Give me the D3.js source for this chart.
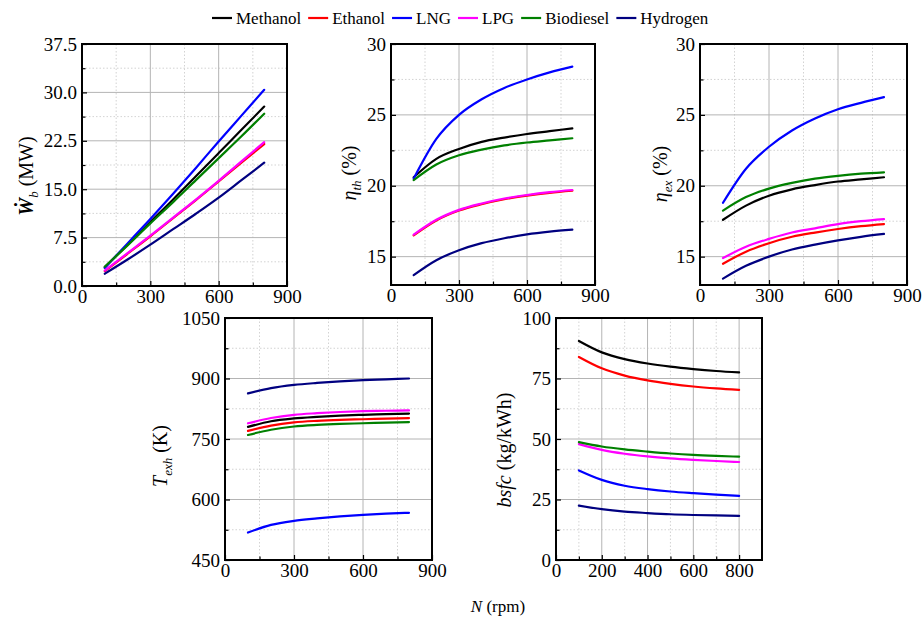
<!DOCTYPE html>
<html><head><meta charset="utf-8">
<script src="https://cdn.jsdelivr.net/npm/d3@7"></script>
<style>body{margin:0;background:#fff}svg{display:block}svg text{font-family:"Liberation Serif","Times New Roman",Times,serif;fill:#000}</style>
</head><body><svg id="c" width="922" height="619"></svg>
<script>
const fuels = ["Methanol","Ethanol","LNG","LPG","Biodiesel","Hydrogen"];
const colors = ["#000000","#ff0000","#0000ff","#ff00ff","#008000","#000080"];
const speed = [100,200,300,400,500,600,700,800];

const brakePower = {
  Methanol: [2.9,6.4,9.9,13.4,17.0,20.6,24.2,27.8],
  Ethanol: [2.3,5.0,7.7,10.5,13.3,16.2,19.1,22.0],
  LNG: [2.8,6.6,10.4,14.3,18.3,22.4,26.4,30.4],
  LPG: [2.4,5.1,7.8,10.6,13.4,16.3,19.3,22.3],
  Biodiesel: [3.0,6.3,9.7,13.0,16.4,19.8,23.2,26.7],
  Hydrogen: [1.9,4.1,6.4,8.8,11.2,13.7,16.4,19.1]
};
const thermalEff = {
  Methanol: [20.6,21.9,22.6,23.1,23.4,23.65,23.85,24.05],
  Ethanol: [16.5,17.55,18.25,18.7,19.05,19.3,19.5,19.65],
  LNG: [20.5,23.3,25.0,26.1,26.9,27.5,28.0,28.4],
  LPG: [16.55,17.6,18.3,18.75,19.1,19.35,19.55,19.7],
  Biodiesel: [20.4,21.5,22.15,22.55,22.85,23.05,23.2,23.35],
  Hydrogen: [13.7,14.75,15.45,15.95,16.3,16.57,16.76,16.9]
};
const exergyEff = {
  Methanol: [17.6,18.6,19.3,19.75,20.05,20.3,20.45,20.6],
  Ethanol: [14.5,15.35,15.95,16.4,16.7,16.95,17.15,17.3],
  LNG: [18.8,21.2,22.75,23.9,24.75,25.4,25.85,26.25],
  LPG: [14.9,15.7,16.25,16.7,17.0,17.3,17.5,17.65],
  Biodiesel: [18.25,19.2,19.8,20.2,20.5,20.7,20.85,20.95],
  Hydrogen: [13.45,14.35,15.0,15.5,15.85,16.15,16.4,16.6]
};
const exhaustTemp = {
  Methanol: [780,794,801,805,808,810,811.5,813],
  Ethanol: [770,783,791,795,797.5,799,800.5,802],
  LNG: [518,537,547,553,558,562,565,567],
  LPG: [789,802,810,814,817,819,820,821],
  Biodiesel: [760,773,781,785,787.5,789,790.5,792],
  Hydrogen: [863,876,884,889,893,896,898,900]
};
const bsfcValues = {
  Methanol: [90.5,85.8,83.0,81.2,79.9,78.9,78.1,77.5],
  Ethanol: [83.9,79.2,76.2,74.2,72.8,71.7,70.9,70.3],
  LNG: [37.0,33.1,30.7,29.3,28.3,27.6,27.0,26.5],
  LPG: [47.9,45.5,43.9,42.8,42.0,41.4,40.9,40.5],
  Biodiesel: [48.7,46.9,45.7,44.8,44.0,43.4,43.0,42.7],
  Hydrogen: [22.5,21.0,20.0,19.4,18.9,18.6,18.4,18.2]
};

const xTicksA = [0,300,600,900], xMinorA = [150,450,750];
const xTicksB = [0,200,400,600,800], xMinorB = [100,300,500,700];
const yTicksW = [0,7.5,15,22.5,30,37.5], yMinorW = [3.75,11.25,18.75,26.25,33.75];
const yTicksEff = [15,20,25,30], yMinorEff = [17.5,22.5,27.5];
const yTicksT = [450,600,750,900,1050], yMinorT = [525,675,825,975];
const yTicksB = [0,25,50,75,100], yMinorB = [12.5,37.5,62.5,87.5];

const panels = [
  {data:brakePower, box:[82,44,287,286], xd:[0,900], xt:xTicksA, xm:xMinorA, yd:[0,37.5], yt:yTicksW, ym:yMinorW, fmt:d3.format(".1f"), label:"wb", lx:33, ly:176},
  {data:thermalEff, box:[391,44,595,285], xd:[0,900], xt:xTicksA, xm:xMinorA, yd:[13,30], yt:yTicksEff, ym:yMinorEff, fmt:d3.format("d"), label:"th", lx:356, ly:173},
  {data:exergyEff, box:[700,44,907,285], xd:[0,900], xt:xTicksA, xm:xMinorA, yd:[13,30], yt:yTicksEff, ym:yMinorEff, fmt:d3.format("d"), label:"ex", lx:667, ly:174},
  {data:exhaustTemp, box:[225,318,432,560], xd:[0,900], xt:xTicksA, xm:xMinorA, yd:[450,1050], yt:yTicksT, ym:yMinorT, fmt:d3.format("d"), label:"T", lx:167, ly:456},
  {data:bsfcValues, box:[556,318,762,560], xd:[0,900], xt:xTicksB, xm:xMinorB, yd:[0,100], yt:yTicksB, ym:yMinorB, fmt:d3.format("d"), label:"bsfc", lx:511, ly:450}
];

const svg = d3.select("#c");
const SERIF = "'Liberation Serif','Times New Roman',Times,serif";

panels.forEach(p => {
  const [x0,y0,x1,y1] = p.box;
  const x = d3.scaleLinear().domain(p.xd).range([x0,x1]);
  const y = d3.scaleLinear().domain(p.yd).range([y1,y0]);
  const g = svg.append("g");
  const inX = v => v > p.xd[0] && v < p.xd[1];
  const inY = v => v > p.yd[0] && v < p.yd[1];
  g.selectAll(null).data(p.xm.filter(inX)).join("line")
    .attr("x1", d=>x(d)).attr("x2", d=>x(d)).attr("y1", y0).attr("y2", y1)
    .attr("stroke","#c8c8c8").attr("stroke-width",0.8).attr("stroke-dasharray","1.5,2");
  g.selectAll(null).data(p.ym.filter(inY)).join("line")
    .attr("y1", d=>y(d)).attr("y2", d=>y(d)).attr("x1", x0).attr("x2", x1)
    .attr("stroke","#c8c8c8").attr("stroke-width",0.8).attr("stroke-dasharray","1.5,2");
  g.selectAll(null).data(p.xt.filter(inX)).join("line")
    .attr("x1", d=>x(d)).attr("x2", d=>x(d)).attr("y1", y0).attr("y2", y1)
    .attr("stroke","#b4b4b4").attr("stroke-width",1);
  g.selectAll(null).data(p.yt.filter(inY)).join("line")
    .attr("y1", d=>y(d)).attr("y2", d=>y(d)).attr("x1", x0).attr("x2", x1)
    .attr("stroke","#b4b4b4").attr("stroke-width",1);
  const line = d3.line().x((d,i)=>x(speed[i])).y(d=>y(d)).curve(d3.curveMonotoneX);
  fuels.forEach((f,i) => {
    g.append("path").attr("d", line(p.data[f])).attr("fill","none")
      .attr("stroke", colors[i]).attr("stroke-width",2.2).attr("stroke-linecap","round");
  });
  const ax = g.append("g").attr("transform",`translate(0,${y1})`)
    .call(d3.axisBottom(x).tickValues(p.xt).tickSize(-5).tickPadding(4).tickFormat(d3.format("d")));
  const ay = g.append("g").attr("transform",`translate(${x0},0)`)
    .call(d3.axisLeft(y).tickValues(p.yt).tickSize(-5).tickPadding(5).tickFormat(p.fmt));
  const mx = g.append("g").attr("transform",`translate(0,${y1})`)
    .call(d3.axisBottom(x).tickValues(p.xm).tickSize(-3.5).tickFormat(""));
  const my = g.append("g").attr("transform",`translate(${x0},0)`)
    .call(d3.axisLeft(y).tickValues(p.ym).tickSize(-3.5).tickFormat(""));
  [ax,ay,mx,my].forEach(a => {
    a.attr("font-family", SERIF).attr("font-size", 19);
    a.select(".domain").remove();
    a.selectAll("line").attr("stroke","#000").attr("stroke-width",1.2);
    a.selectAll("text").attr("fill","#000");
  });
  g.append("rect").attr("x",x0).attr("y",y0).attr("width",x1-x0).attr("height",y1-y0)
    .attr("fill","none").attr("stroke","#000").attr("stroke-width",2);
  const t = svg.append("text").attr("transform",`translate(${p.lx},${p.ly}) rotate(-90)`)
    .attr("text-anchor","middle").attr("font-family",SERIF).style("font-size","20px");
  if (p.label === "wb") {
    t.append("tspan").text("\u1E86").style("font-style","italic").style("font-weight","bold");
    t.append("tspan").text("b").style("font-style","italic").style("font-size","13px").attr("dy",5);
    t.append("tspan").text(" (MW)").attr("dy",-5);
  } else if (p.label === "th" || p.label === "ex") {
    t.append("tspan").text("\u03B7").style("font-style","italic");
    t.append("tspan").text(p.label).style("font-style","italic").style("font-size","13px").attr("dy",5);
    t.append("tspan").text(" (%)").attr("dy",-5);
  } else if (p.label === "T") {
    t.append("tspan").text("T").style("font-style","italic");
    t.append("tspan").text("exh").style("font-style","italic").style("font-size","13px").attr("dy",5);
    t.append("tspan").text(" (K)").attr("dy",-5);
  } else {
    t.append("tspan").text("bsfc").style("font-style","italic");
    t.append("tspan").text(" (kg/kWh)");
  }
});

const xl = svg.append("text").attr("x",498).attr("y",612).attr("text-anchor","middle")
  .attr("font-family",SERIF).style("font-size","17px");
xl.append("tspan").text("N").style("font-style","italic");
xl.append("tspan").text(" (rpm)");

let lx = 212;
const leg = svg.append("g").attr("font-family",SERIF);
fuels.forEach((f,i) => {
  leg.append("line").attr("x1",lx).attr("x2",lx+20).attr("y1",18).attr("y2",18)
    .attr("stroke",colors[i]).attr("stroke-width",2.2);
  const tx = leg.append("text").attr("x",lx+24).attr("y",24).style("font-size","17px").text(f);
  lx += 24 + tx.node().getComputedTextLength() + 7;
});
</script></body></html>
